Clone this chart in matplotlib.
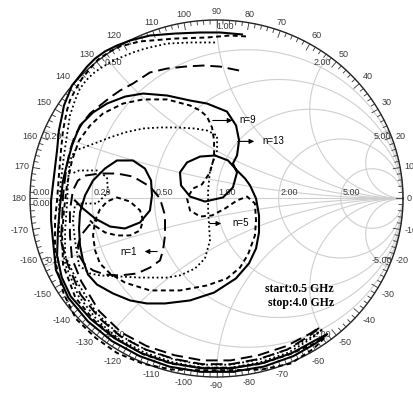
import numpy as np
import matplotlib
matplotlib.use("Agg")
import matplotlib.pyplot as plt

# ---- reflection-coefficient traces (Re, Im of S11), 0.5 - 4.0 GHz ----
n13_re = [0.137, 0.019, -0.088, -0.223, -0.357, -0.464, -0.534, -0.598, -0.651, -0.694,
          -0.732, -0.775, -0.796, -0.818, -0.828, -0.845, -0.855, -0.871, -0.887, -0.887,
          -0.877, -0.861, -0.794, -0.689, -0.560, -0.412, -0.252, -0.085, 0.085, 0.252,
          0.412, 0.528, 0.594, 0.534, 0.404, 0.247, 0.083, -0.083, -0.247, -0.404,
          -0.548, -0.675, -0.782, -0.830, -0.855, -0.850, -0.839, -0.823, -0.801, -0.775,
          -0.732, -0.662, -0.587, -0.490, -0.394, -0.265, -0.142, -0.051, 0.056, 0.105,
          0.121, 0.110, 0.088, 0.110, 0.088, 0.035, -0.062, -0.142, -0.190, -0.196,
          -0.158, -0.088, -0.008, 0.062, 0.110, 0.153, 0.180, 0.212, 0.228, 0.228,
          0.212, 0.174, 0.104, -0.013, -0.142, -0.276, -0.373, -0.464, -0.555, -0.641,
          -0.689, -0.716, -0.732, -0.737, -0.732, -0.705, -0.662, -0.598, -0.534, -0.448,
          -0.384, -0.351, -0.346, -0.357, -0.410, -0.491, -0.571, -0.651, -0.716, -0.759]
n13_im = [0.919, 0.930, 0.930, 0.924, 0.913, 0.885, 0.857, 0.824, 0.784, 0.739,
          0.689, 0.633, 0.577, 0.521, 0.465, 0.381, 0.269, 0.129, -0.011, -0.123,
          -0.235, -0.401, -0.557, -0.689, -0.799, -0.883, -0.942, -0.971, -0.971, -0.942,
          -0.883, -0.814, -0.760, -0.792, -0.866, -0.922, -0.951, -0.951, -0.922, -0.866,
          -0.782, -0.675, -0.548, -0.441, -0.319, -0.179, -0.039, 0.101, 0.196, 0.297,
          0.409, 0.482, 0.532, 0.571, 0.588, 0.577, 0.549, 0.532, 0.487, 0.409,
          0.325, 0.241, 0.196, 0.146, 0.062, 0.006, -0.017, 0.011, 0.073, 0.146,
          0.202, 0.235, 0.241, 0.213, 0.157, 0.112, 0.073, 0.000, -0.095, -0.190,
          -0.280, -0.364, -0.448, -0.527, -0.571, -0.588, -0.588, -0.571, -0.532, -0.482,
          -0.426, -0.347, -0.263, -0.168, -0.078, 0.017, 0.101, 0.168, 0.213, 0.213,
          0.168, 0.101, 0.017, -0.067, -0.134, -0.168, -0.157, -0.112, -0.056, -0.011]

n9_re = [0.158, 0.072, -0.051, -0.223, -0.410, -0.517, -0.571, -0.635, -0.678, -0.721,
         -0.759, -0.786, -0.802, -0.823, -0.834, -0.845, -0.855, -0.866, -0.866, -0.866,
         -0.820, -0.753, -0.648, -0.534, -0.397, -0.242, -0.082, 0.082, 0.242, 0.397,
         0.520, 0.580, 0.525, 0.392, 0.239, 0.080, -0.080, -0.239, -0.392, -0.530,
         -0.654, -0.757, -0.823, -0.828, -0.818, -0.802, -0.775, -0.737, -0.678, -0.609,
         -0.501, -0.394, -0.265, -0.142, -0.088, -0.051, -0.024, -0.013, -0.013, -0.035,
         -0.078, -0.126, -0.158, -0.142, -0.088, -0.024, 0.046, 0.110, 0.164, 0.206,
         0.212, 0.206, 0.169, 0.126, 0.056, -0.051, -0.196, -0.357, -0.491, -0.571,
         -0.625, -0.651, -0.662, -0.651, -0.625, -0.587, -0.534, -0.464, -0.410, -0.394,
         -0.410, -0.464, -0.534, -0.598, -0.646, -0.678]
n9_im = [0.908, 0.913, 0.902, 0.896, 0.880, 0.852, 0.824, 0.779, 0.728, 0.672,
         0.605, 0.549, 0.493, 0.381, 0.269, 0.129, -0.011, -0.123, -0.235, -0.347,
         -0.532, -0.675, -0.781, -0.865, -0.925, -0.958, -0.962, -0.962, -0.958, -0.925,
         -0.842, -0.780, -0.812, -0.873, -0.926, -0.948, -0.948, -0.926, -0.873, -0.790,
         -0.685, -0.555, -0.370, -0.207, -0.067, 0.073, 0.213, 0.325, 0.409, 0.476,
         0.532, 0.555, 0.555, 0.521, 0.493, 0.459, 0.398, 0.325, 0.230, 0.146,
         0.079, 0.056, 0.000, -0.067, -0.101, -0.095, -0.056, -0.011, 0.011, -0.028,
         -0.123, -0.207, -0.314, -0.387, -0.448, -0.487, -0.515, -0.515, -0.471, -0.420,
         -0.364, -0.291, -0.207, -0.123, -0.061, -0.017, 0.006, -0.017, -0.067, -0.123,
         -0.179, -0.207, -0.207, -0.190, -0.157, -0.123]

n5_re = [-0.008, -0.142, -0.265, -0.383, -0.448, -0.528, -0.571, -0.625, -0.662, -0.700,
         -0.732, -0.759, -0.786, -0.802, -0.818, -0.834, -0.844, -0.844, -0.810, -0.740,
         -0.638, -0.525, -0.388, -0.233, -0.079, 0.079, 0.233, 0.388, 0.514, 0.571,
         0.518, 0.382, 0.230, 0.078, -0.078, -0.230, -0.382, -0.524, -0.644, -0.740,
         -0.812, -0.812, -0.802, -0.796, -0.786, -0.759, -0.711, -0.625, -0.571, -0.491,
         -0.394, -0.303, -0.212, -0.115, -0.051, 0.003, 0.003, -0.035, -0.045, -0.045,
         -0.040, -0.035, -0.062, -0.115, -0.196, -0.265, -0.410, -0.517, -0.625, -0.678,
         -0.737, -0.759, -0.770, -0.759, -0.737, -0.641, -0.582, -0.587, -0.641, -0.737,
         -0.775]
n5_im = [0.874, 0.874, 0.868, 0.840, 0.818, 0.784, 0.762, 0.728, 0.700, 0.661,
         0.616, 0.549, 0.465, 0.353, 0.241, 0.101, -0.039, -0.179, -0.372, -0.546,
         -0.684, -0.786, -0.862, -0.918, -0.948, -0.948, -0.918, -0.862, -0.781, -0.731,
         -0.771, -0.846, -0.901, -0.931, -0.931, -0.901, -0.846, -0.763, -0.640, -0.481,
         -0.319, -0.179, -0.039, 0.101, 0.213, 0.269, 0.286, 0.320, 0.342, 0.370,
         0.392, 0.398, 0.398, 0.392, 0.381, 0.353, 0.269, 0.157, 0.045, -0.067,
         -0.151, -0.235, -0.336, -0.392, -0.431, -0.443, -0.443, -0.437, -0.431, -0.420,
         -0.375, -0.235, -0.123, -0.039, -0.028, -0.028, 0.034, 0.118, 0.157, 0.157,
         0.140]

n1_re = [0.121, 0.019, -0.072, -0.169, -0.265, -0.357, -0.448, -0.517, -0.571, -0.625,
         -0.678, -0.721, -0.759, -0.786, -0.807, -0.823, -0.828, -0.834, -0.800, -0.730,
         -0.627, -0.515, -0.380, -0.228, -0.077, 0.077, 0.228, 0.380, 0.500, 0.555,
         0.505, 0.374, 0.225, 0.076, -0.076, -0.225, -0.374, -0.510, -0.630, -0.725,
         -0.775, -0.786, -0.786, -0.770, -0.743, -0.700, -0.625, -0.534, -0.448, -0.357,
         -0.303, -0.276, -0.276, -0.287, -0.303, -0.357, -0.426, -0.517, -0.598, -0.662,
         -0.711, -0.737, -0.743, -0.727, -0.684, -0.641]
n1_im = [0.717, 0.739, 0.745, 0.739, 0.728, 0.706, 0.644, 0.605, 0.566, 0.521,
         0.476, 0.420, 0.353, 0.269, 0.157, 0.017, -0.123, -0.235, -0.363, -0.536,
         -0.672, -0.772, -0.846, -0.899, -0.928, -0.928, -0.899, -0.846, -0.768, -0.720,
         -0.755, -0.827, -0.878, -0.907, -0.907, -0.878, -0.827, -0.751, -0.630, -0.465,
         -0.336, -0.207, -0.067, 0.045, 0.101, 0.129, 0.140, 0.140, 0.123, 0.067,
         0.000, -0.095, -0.207, -0.291, -0.347, -0.387, -0.420, -0.431, -0.426, -0.403,
         -0.364, -0.319, -0.263, -0.207, -0.151, -0.123]

r_grid = [0.2, 0.5, 1.0, 2.0, 5.0]
x_grid = [0.2, 0.5, 1.0, 2.0, 5.0]
angle_labels = list(range(-170, 190, 10))

GRID = "#cfcfcf"
TXT = "#3a3a3a"
plt.rcParams["font.family"] = ["Liberation Sans", "DejaVu Sans"]

fig = plt.figure(figsize=(4.14, 3.95), dpi=100)
ax = fig.add_axes([0, 0, 1, 1])
ax.set_xlim(-1.1609, 1.059)
ax.set_ylim(-1.1008, 1.112)
ax.axis("off")

# pixel -> data scale factors (the chart is drawn slightly flattened)
sx = (1.059 + 1.1609) / 414.0
sy = (1.112 + 1.1008) / 395.0

t = np.linspace(0, 2 * np.pi, 721)
# constant-resistance circles
for r in r_grid:
    c, rad = r / (1 + r), 1 / (1 + r)
    ax.plot(c + rad * np.cos(t), rad * np.sin(t), color=GRID, lw=0.8, zorder=1)
# constant-reactance arcs
for xv in x_grid:
    for s in (1, -1):
        cy, rad = s / xv, 1 / xv
        px = 1 + rad * np.cos(t)
        py = cy + rad * np.sin(t)
        inside = px ** 2 + py ** 2 <= 1.0001
        px = np.where(inside, px, np.nan)
        py = np.where(inside, py, np.nan)
        ax.plot(px, py, color=GRID, lw=0.8, zorder=1)
ax.plot([-1, 1], [0, 0], color=GRID, lw=0.8, zorder=1)

# outer boundary with angle ticks
ax.plot(np.cos(t), np.sin(t), color="#222222", lw=1.0, zorder=3)
for d in range(-180, 180, 2):
    a = np.deg2rad(d)
    L = 7 if d % 10 == 0 else 4
    ax.plot([np.cos(a), np.cos(a) - L * sx * np.cos(a)],
            [np.sin(a), np.sin(a) - L * sy * np.sin(a)],
            color="#333333", lw=0.6, zorder=3)
for d in angle_labels:
    a = np.deg2rad(d)
    c, s = np.cos(a), np.sin(a)
    ha = "left" if c > 0.35 else ("right" if c < -0.35 else "center")
    va = "bottom" if s > 0.35 else ("top" if s < -0.35 else "center")
    ax.text(c + 4 * sx * c, s + 4 * sy * s, str(d), fontsize=6.5, color=TXT,
            ha=ha, va=va, zorder=4)

# grid value labels
for r in r_grid:
    g = (r - 1) / (r + 1)
    ax.text(g + 1.5 * sx, 1 * sy, f"{r:.2f}", fontsize=6.5, color=TXT,
            ha="left", va="bottom", zorder=4)
ax.text(-1 + 3 * sx, 1 * sy, "0.00", fontsize=6.5, color=TXT, ha="left", va="bottom", zorder=4)
ax.text(-1 + 3 * sx, -1 * sy, "0.00", fontsize=6.5, color=TXT, ha="left", va="top", zorder=4)
for xv in x_grid:
    for s in (1, -1):
        gam = (1j * s * xv - 1) / (1j * s * xv + 1)
        lab = f"{xv:.2f}" if s > 0 else (f"-{xv:.1f}" if xv == 0.2 else f"-{xv:.2f}")
        if gam.real < 0.05:
            ax.text(gam.real, gam.imag - s * 2 * sy, lab, fontsize=6.5, color=TXT,
                    ha="left", va="top" if s > 0 else "bottom", zorder=4)
        else:
            ax.text(gam.real + 3 * sx, gam.imag - s * 2 * sy, lab, fontsize=6.5, color=TXT,
                    ha="right", va="top" if s > 0 else "bottom", zorder=4)

# traces
ax.plot(n13_re, n13_im, color="black", lw=1.5, ls="-", zorder=5)
ax.plot(n9_re, n9_im, color="black", lw=1.4, ls=(0, (2.5, 1.8)), zorder=5)
ax.plot(n5_re, n5_im, color="black", lw=1.3, ls=(0, (1, 1.5)), zorder=5)
ax.plot(n1_re, n1_im, color="black", lw=1.4, ls=(0, (6, 3)), zorder=5)

# trace labels with pointers
arrow = dict(arrowstyle="-|>", color="black", lw=0.8, mutation_scale=7)
ax.annotate("", xy=(0.100, 0.437), xytext=(-0.035, 0.437), arrowprops=arrow)
ax.text(0.125, 0.437, "n=9", fontsize=7, va="center", ha="left")
ax.annotate("", xy=(0.217, 0.320), xytext=(0.099, 0.320), arrowprops=arrow)
ax.text(0.247, 0.320, "n=13", fontsize=7, va="center", ha="left")
ax.annotate("", xy=(0.040, -0.140), xytext=(-0.051, -0.140), arrowprops=arrow)
ax.text(0.083, -0.135, "n=5", fontsize=7, va="center", ha="left")
ax.annotate("", xy=(-0.400, -0.297), xytext=(-0.303, -0.297), arrowprops=arrow)
ax.text(-0.517, -0.297, "n=1", fontsize=7, va="center", ha="left")

ax.text(0.63, -0.506, "start:0.5 GHz", fontsize=8.5, fontweight="bold",
        family="Liberation Serif", ha="right", va="center")
ax.text(0.63, -0.585, "stop:4.0 GHz", fontsize=8.5, fontweight="bold",
        family="Liberation Serif", ha="right", va="center")

fig.savefig("out.png", dpi=100, facecolor="white")
